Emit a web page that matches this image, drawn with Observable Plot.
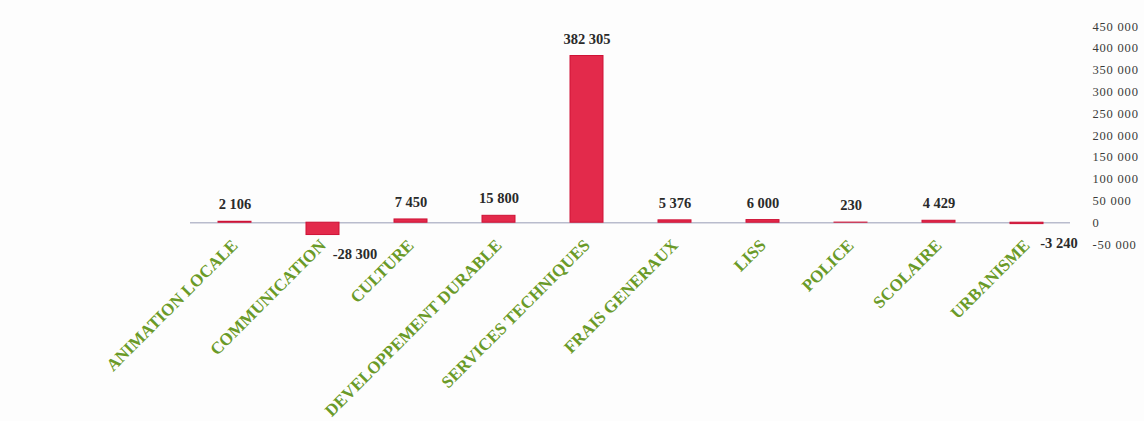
<!DOCTYPE html>
<html>
<head>
<meta charset="utf-8">
<script src="https://cdn.jsdelivr.net/npm/d3@7"></script>
<script src="https://cdn.jsdelivr.net/npm/@observablehq/plot@0.6"></script>
<style>
  html, body { margin: 0; padding: 0; background: #fdfdfd; }
  #chart { width: 1144px; height: 421px; }
  svg [aria-label="y-axis tick label"] text { letter-spacing: 0.8px; }
</style>
</head>
<body>
<div id="chart"></div>
<script>
const categories = ["ANIMATION LOCALE", "COMMUNICATION", "CULTURE", "DEVELOPPEMENT DURABLE", "SERVICES TECHNIQUES", "FRAIS GENERAUX", "LISS", "POLICE", "SCOLAIRE", "URBANISME"];
const values = [2106, -28300, 7450, 15800, 382305, 5376, 6000, 230, 4429, -3240];
const yTicks = [-50000, 0, 50000, 100000, 150000, 200000, 250000, 300000, 350000, 400000, 450000];

const data = categories.map((c, i) => ({category: c, value: values[i]}));
const fmt = d => d3.format(",")(Math.abs(d)).replace(/,/g, " ");
const fmtSigned = d => (d < 0 ? "-" : "") + fmt(d);

const chart = Plot.plot({
  width: 1144,
  height: 421,
  marginTop: 26,
  marginBottom: 177,
  marginLeft: 190,
  marginRight: 74,
  style: {background: "transparent", fontFamily: "Liberation Serif"},
  x: {domain: categories, paddingInner: 0.63, paddingOuter: 0.315, axis: null},
  y: {domain: [-50000, 450000], axis: null},
  marks: [
    Plot.ruleY([0], {stroke: "#b9bccd", strokeWidth: 1.5}),
    Plot.barY(data, {x: "category", y: "value", fill: "#e32a4b", stroke: "#cf1236", strokeWidth: 1}),
    Plot.text(data.filter(d => d.value >= 0), {
      x: "category", y: "value", text: d => fmtSigned(d.value),
      dy: -17, fontSize: 14.5, fontWeight: "bold", fill: "#2a2a2a", fontFamily: "Liberation Serif"
    }),
    Plot.text(data.filter(d => d.value < 0), {
      x: "category", y: "value", text: d => fmtSigned(d.value),
      dy: 19, dx: 32, fontSize: 14.5, fontWeight: "bold", fill: "#2a2a2a", fontFamily: "Liberation Serif"
    }),
    Plot.axisY(yTicks, {
      anchor: "right", tickSize: 0, tickPadding: 22, tickFormat: fmtSigned, label: null,
      fontSize: 12.5, fill: "#3a3a3a", fontFamily: "Liberation Serif"
    }),
    Plot.axisX({
      anchor: "bottom", tickSize: 0, tickPadding: -2, tickRotate: -45, label: null,
      fontSize: 17, fontWeight: "bold", fill: "#6a9a28", fontFamily: "Liberation Serif"
    })
  ]
});
document.getElementById("chart").appendChild(chart);
</script>
</body>
</html>
